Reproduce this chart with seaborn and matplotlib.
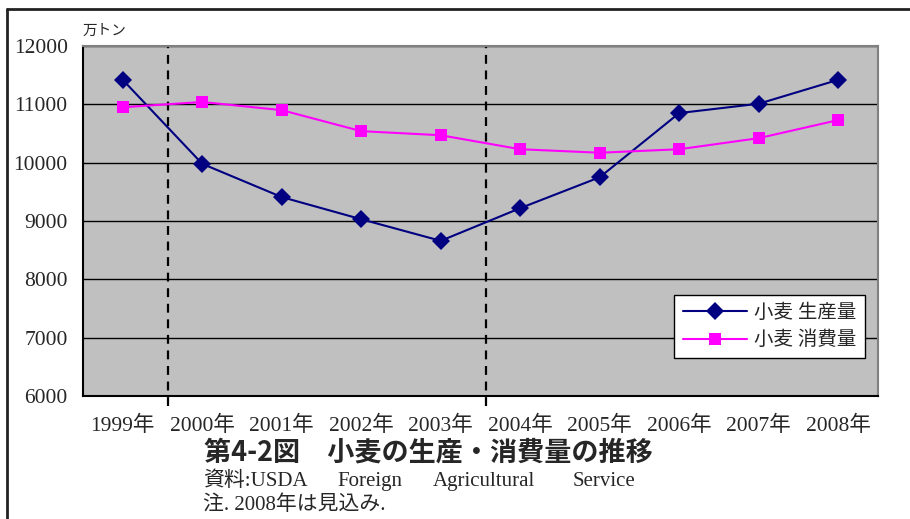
import numpy as np
import pandas as pd
import seaborn as sns
import matplotlib.pyplot as plt
from matplotlib.lines import Line2D
from matplotlib.ticker import FixedLocator

# data (unit: 万トン)
years = ['1999年', '2000年', '2001年', '2002年', '2003年',
         '2004年', '2005年', '2006年', '2007年', '2008年']
production = [11420, 9980, 9410, 9030, 8660, 9220, 9750, 10850, 11010, 11420]
consumption = [10950, 11040, 10900, 10540, 10470, 10230, 10170, 10230, 10420, 10730]
series_names = ['小麦 生産量', '小麦 消費量']
series_colors = ['#000080', '#FF00FF']
series_markers = ['D', 's']
marker_years = [0.57, 4.57]  # dashed separators between categories
source_words = ['資料:USDA', 'Foreign', 'Agricultural', 'Service']

sns.set_style("white")
plt.rcParams['font.family'] = ['Liberation Serif', 'Noto Sans CJK JP', 'DejaVu Sans']

df = pd.DataFrame({
    'year': years * 2,
    'value': production + consumption,
    'series': [series_names[0]] * len(years) + [series_names[1]] * len(years),
})

fig = plt.figure(figsize=(9.10, 5.19), dpi=100)
ax = fig.add_axes([0.0912, 0.237, 0.8736, 0.6744])
ax.set_facecolor('#C0C0C0')

sns.lineplot(data=df, x='year', y='value', hue='series', style='series',
             palette=series_colors, markers=series_markers, dashes=False,
             markersize=9, linewidth=1.5, markeredgewidth=0, ax=ax)

ax.set_xlim(-0.5, 9.5)
ax.set_ylim(6000, 12000)
ax.set_yticks(np.arange(6000, 12001, 1000))
ax.yaxis.grid(True, color='black', linewidth=1.0)
ax.set_axisbelow(True)

# category boundary ticks
ax.xaxis.set_minor_locator(FixedLocator(np.arange(-0.5, 10, 1)))
ax.tick_params(axis='x', which='major', length=0, pad=14, labelsize=15.5)
ax.tick_params(axis='x', which='minor', length=5, direction='in', color='black')
ax.tick_params(axis='y', which='major', length=4, direction='inout', pad=9, labelsize=15.5)
ax.set_xlabel('')
ax.set_ylabel('')

for side in ['top', 'right']:
    ax.spines[side].set_color('#808080')
    ax.spines[side].set_linewidth(1.5)
for side in ['bottom', 'left']:
    ax.spines[side].set_color('black')
    ax.spines[side].set_linewidth(1.5)

for xv in marker_years:
    ax.axvline(xv, ymin=-0.03, ymax=1, color='black', linestyle=(0, (4, 3)),
               linewidth=1.6, clip_on=False, zorder=1.5)

leg = ax.legend(loc='lower right', bbox_to_anchor=(0.984, 0.108), fontsize=14,
                frameon=True, fancybox=False, borderpad=0.45, handlelength=3.3,
                labelspacing=0.45, handletextpad=0.35, borderaxespad=0)
leg.get_frame().set_edgecolor('black')
leg.get_frame().set_linewidth(1.0)
leg.get_frame().set_alpha(1)

fig.text(0.0912, 0.94, '万トン', fontsize=10.5, ha='left', va='center')
fig.text(0.224, 0.129, '第4-2図\u3000小麦の生産・消費量の推移', fontsize=19.5,
         fontweight='bold', ha='left', va='center',
         family=['Noto Sans CJK JP', 'DejaVu Sans'])
for word, px in zip(source_words, [203, 337, 433, 573]):
    fig.text(px / 910, 0.073, word, fontsize=15, ha='left', va='center')
fig.text(0.223, 0.027, '注. 2008年は見込み.', fontsize=15, ha='left', va='center')

# outer frame (only left and top edges visible)
fig.add_artist(Line2D([0.0075, 0.0075], [0, 0.983], color='#222222', linewidth=2,
                      transform=fig.transFigure))
fig.add_artist(Line2D([0.0075, 1], [0.983, 0.983], color='#222222', linewidth=2,
                      transform=fig.transFigure))

fig.savefig('out.png', dpi=100)
